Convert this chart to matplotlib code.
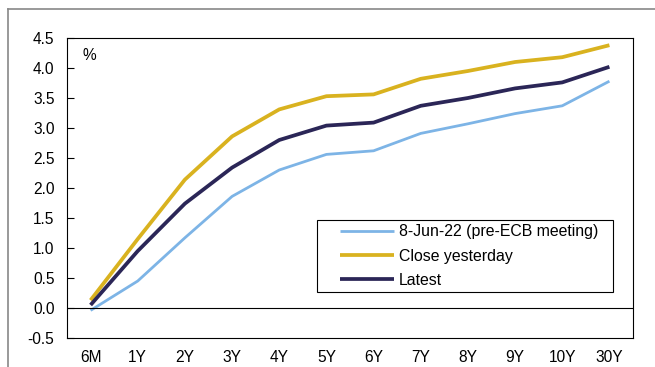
import numpy as np
import matplotlib.pyplot as plt
from matplotlib.lines import Line2D
from matplotlib.patches import Rectangle

plt.rcParams['font.family'] = ['Liberation Sans', 'DejaVu Sans']

#Tenors and curves
tenors = ['6M', '1Y', '2Y', '3Y', '4Y', '5Y', '6Y', '7Y', '8Y', '9Y', '10Y', '30Y']
pre_ecb = [-0.04, 0.45, 1.17, 1.86, 2.30, 2.56, 2.62, 2.91, 3.07, 3.24, 3.37, 3.78]
close_yday = [0.13, 1.15, 2.14, 2.86, 3.31, 3.53, 3.56, 3.82, 3.95, 4.10, 4.18, 4.38]
latest = [0.05, 0.95, 1.74, 2.34, 2.80, 3.04, 3.09, 3.37, 3.50, 3.66, 3.76, 4.02]
labels = ['8-Jun-22 (pre-ECB meeting)', 'Close yesterday', 'Latest']
colors = ['#7db4e6', '#d9b21f', '#2b2657']
widths = [2.0, 2.7, 2.7]

fig = plt.figure(figsize=(6.55, 3.67), dpi=100)

#Outer grey frame (left and top edges visible)
fig.add_artist(Line2D([8/655, 8/655], [0, 1-9/367], color='#888888', lw=1.2))
fig.add_artist(Line2D([8/655, 1], [1-9/367, 1-9/367], color='#888888', lw=1.2))

ax = fig.add_axes([67/655, 29/367, 566/655, 300/367])
x = np.arange(len(tenors))
for ys, lab, c, w in zip([pre_ecb, close_yday, latest], labels, colors, widths):
    ax.plot(x, ys, color=c, lw=w, label=lab, solid_capstyle='butt')

ax.axhline(0, color='black', lw=0.8)
ax.set_xlim(-0.5, len(tenors)-0.5)
ax.set_ylim(-0.5, 4.5)
ax.set_yticks(np.arange(-0.5, 4.51, 0.5))
ax.set_yticklabels(['%.1f' % v for v in np.arange(-0.5, 4.51, 0.5)])
ax.set_xticks(x)
ax.set_xticklabels(tenors)
ax.tick_params(axis='y', direction='in', length=5, width=0.8, pad=9, labelsize=11.2)
ax.tick_params(axis='x', length=0, pad=9, labelsize=11.2)
for s in ax.spines.values():
    s.set_linewidth(0.8)
    s.set_color('black')

ax.text(0.028, 0.943, '%', transform=ax.transAxes, fontsize=11.2, va='center', ha='left')

#Legend box drawn separately so the padding matches
ax.add_patch(Rectangle((0.4417, 0.1533), 0.523, 0.24, transform=ax.transAxes,
                       facecolor='white', edgecolor='black', lw=0.8, zorder=4))
leg = ax.legend(loc='center left', bbox_to_anchor=(0.4823, 0.2733), borderaxespad=0,
                frameon=False, fontsize=11.4, handlelength=3.4,
                handletextpad=0.3, labelspacing=0.58, borderpad=0)
leg.set_zorder(5)

fig.savefig('out.png', dpi=100)
